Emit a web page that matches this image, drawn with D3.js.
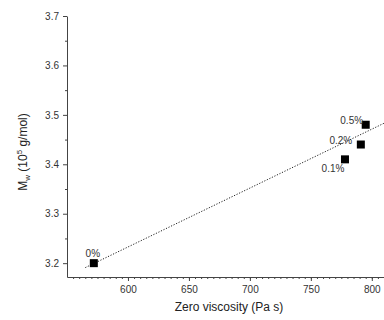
<!DOCTYPE html>
<html>
<head>
<meta charset="utf-8">
<style>
  body { margin: 0; background: #fff; font-family: 'Liberation Sans', Arial, sans-serif; }
  svg { position: absolute; top: 0; left: 0; }
  .axis text { font-family: 'Liberation Sans', Arial, sans-serif; font-size: 10px; fill: #333; }
  .axis path, .axis line { stroke: #444; }
  .title { font-size: 12px; fill: #222; text-anchor: middle; }
  .pt-label { font-size: 10px; fill: #333; }
</style>
<script src="https://cdn.jsdelivr.net/npm/d3@7"></script>
</head>
<body>
<script>
////////////// Data //////////////

const labels = ["0%", "0.1%", "0.2%", "0.5%"]
const viscosity = [572, 778, 791, 795]   // Pa s
const mw = [3.20, 3.41, 3.44, 3.48]      // 10^5 g/mol
const fitX = [565, 810]                  // linear fit drawn in the figure
const fitY = [3.191, 3.483]
const xTicks = [600, 650, 700, 750, 800]
const yTicks = [3.2, 3.3, 3.4, 3.5, 3.6, 3.7]

////////////// Layout //////////////

const W = 384, H = 320
const margin = { top: 16, right: 0, bottom: 43, left: 67 }

const svg = d3.select("body").append("svg")
    .attr("width", W).attr("height", H)

const x = d3.scaleLinear().domain([550, 810]).range([margin.left, W - margin.right])
const y = d3.scaleLinear().domain([3.172, 3.7]).range([H - margin.bottom, margin.top])

////////////// Axes //////////////

// minor ticks first so majors sit on top
svg.append("g")
    .attr("class", "axis")
    .attr("transform", "translate(0," + (H - margin.bottom) + ")")
    .call(d3.axisBottom(x).tickValues(d3.range(555, 811, 5)).tickSize(2).tickFormat(""))
    .call(g => g.select(".domain").remove())

svg.append("g")
    .attr("class", "axis")
    .attr("transform", "translate(" + margin.left + ",0)")
    .call(d3.axisLeft(y).tickValues(d3.range(3.25, 3.7, 0.1)).tickSize(2).tickFormat(""))
    .call(g => g.select(".domain").remove())

svg.append("g")
    .attr("class", "axis")
    .attr("transform", "translate(0," + (H - margin.bottom) + ")")
    .call(d3.axisBottom(x).tickValues(xTicks).tickSize(4).tickSizeOuter(0).tickPadding(5))

svg.append("g")
    .attr("class", "axis")
    .attr("transform", "translate(" + margin.left + ",0)")
    .call(d3.axisLeft(y).tickValues(yTicks).tickSize(4).tickSizeOuter(0).tickPadding(4)
        .tickFormat(d3.format(".1f")))

////////////// Linear fit //////////////

svg.append("path")
    .datum(fitX.map((v, i) => [v, fitY[i]]))
    .attr("d", d3.line().x(d => x(d[0])).y(d => y(d[1])))
    .attr("fill", "none")
    .attr("stroke", "#222")
    .attr("stroke-width", 1)
    .attr("stroke-dasharray", "1.2,1.6")

////////////// Points //////////////

const s = 8
svg.selectAll("rect.pt")
    .data(viscosity)
    .join("rect")
    .attr("class", "pt")
    .attr("x", d => x(d) - s / 2)
    .attr("y", (d, i) => y(mw[i]) - s / 2)
    .attr("width", s).attr("height", s)
    .attr("fill", "#000")

// label offsets relative to each point
const lblDx = [-1, -12, -20, -14]
const lblDy = [-10, 9, -4, -4]
svg.selectAll("text.pt-label")
    .data(labels)
    .join("text")
    .attr("class", "pt-label")
    .attr("x", (d, i) => x(viscosity[i]) + lblDx[i])
    .attr("y", (d, i) => y(mw[i]) + lblDy[i])
    .attr("text-anchor", "middle")
    .attr("dy", "0.35em")
    .text(d => d)

////////////// Titles //////////////

svg.append("text")
    .attr("class", "title")
    .attr("x", 229).attr("y", 311)
    .text("Zero viscosity (Pa s)")

const yt = svg.append("text")
    .attr("class", "title")
    .attr("transform", "translate(27,152) rotate(-90)")
yt.append("tspan").text("M")
yt.append("tspan").attr("dy", 3).attr("font-size", "8px").text("w")
yt.append("tspan").attr("dy", -3).text(" (10")
yt.append("tspan").attr("dy", -5).attr("font-size", "8px").text("5")
yt.append("tspan").attr("dy", 5).text(" g/mol)")
</script>
</body>
</html>
